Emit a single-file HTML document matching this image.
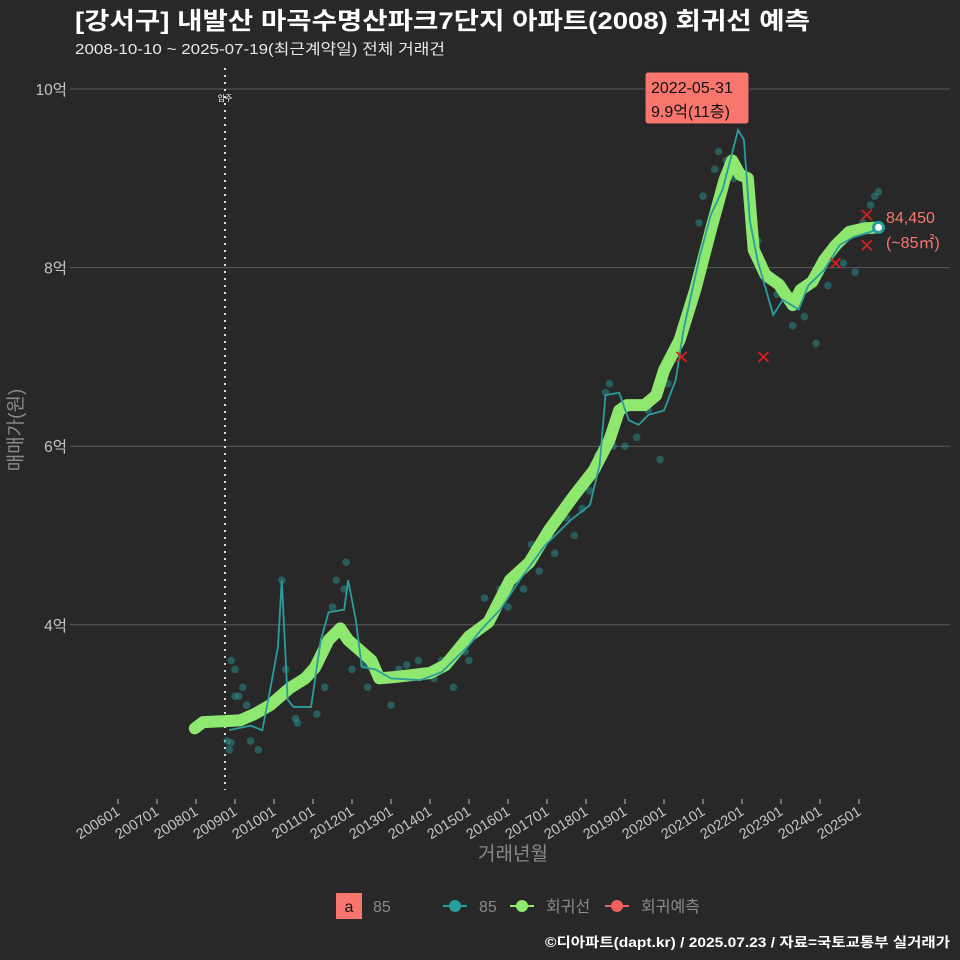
<!DOCTYPE html>
<html><head><meta charset="utf-8">
<style>
body{margin:0;background:#282829;}
svg{display:block;font-family:"Liberation Sans","Noto Sans CJK KR",sans-serif;}
</style></head>
<body>
<svg id="chart" width="960" height="960" viewBox="0 0 960 960">
<rect width="960" height="960" fill="#282829"/>
<text x="75" y="29" font-size="24" font-weight="bold" fill="#fff" textLength="735" lengthAdjust="spacingAndGlyphs">[강서구] 내발산 마곡수명산파크7단지 아파트(2008) 회귀선 예측</text>
<text x="75" y="54" font-size="15" fill="#e8e8e8" textLength="370" lengthAdjust="spacingAndGlyphs">2008-10-10 ~ 2025-07-19(최근계약일) 전체 거래건</text>
<g id="grid"></g>
<g id="yaxis"></g>
<g id="xaxis"></g>
<line x1="225" y1="68" x2="225" y2="790" stroke="#ddd" stroke-width="2" stroke-dasharray="2,5"/>
<text x="225" y="101" font-size="8" fill="#fff" text-anchor="middle">입주</text>
<g id="points"></g>
<g id="lines"></g>
<g id="preds"></g>
<text transform="translate(22,430) rotate(-90)" font-size="19" fill="#8a8a8a" text-anchor="middle">매매가(원)</text>
<text x="513" y="860" font-size="19" fill="#8a8a8a" text-anchor="middle">거래년월</text>
<g>
<rect x="645" y="72" width="104" height="52" rx="3" fill="#f8766d" stroke="#222" stroke-width="1"/>
<text x="651" y="93" font-size="16" fill="#111">2022-05-31</text>
<text x="651" y="117" font-size="16" fill="#111">9.9억(11층)</text>
</g>
<text x="886" y="223" font-size="16" fill="#f8766d">84,450</text>
<text x="886" y="248" font-size="16" fill="#f8766d">(~85㎡)</text>
<g>
<rect x="336" y="893" width="26" height="26" fill="#f8766d"/>
<text x="349" y="912" font-size="16" fill="#111" text-anchor="middle">a</text>
<text x="373" y="912" font-size="16" fill="#8a8a8a">85</text>
<line x1="443" y1="906" x2="467" y2="906" stroke="#2a9d9d" stroke-width="2"/><circle cx="455" cy="906" r="6" fill="#2a9d9d"/>
<text x="479" y="912" font-size="16" fill="#8a8a8a">85</text>
<line x1="510" y1="906" x2="534" y2="906" stroke="#8ee86f" stroke-width="2"/><circle cx="522" cy="906" r="6" fill="#8ee86f"/>
<text x="546" y="912" font-size="16" fill="#8a8a8a">회귀선</text>
<line x1="605" y1="906" x2="629" y2="906" stroke="#f06060" stroke-width="2"/><circle cx="617" cy="906" r="6" fill="#f06060"/>
<text x="641" y="912" font-size="16" fill="#8a8a8a">회귀예측</text>
</g>
<text x="950" y="947" font-size="13.5" font-weight="bold" fill="#fff" text-anchor="end" textLength="405" lengthAdjust="spacingAndGlyphs">©디아파트(dapt.kr) / 2025.07.23 / 자료=국토교통부 실거래가</text>
</svg>
<script>
const yTicks=[4,6,8,10];
const xTickYears=[2006,2007,2008,2009,2010,2011,2012,2013,2014,2015,2016,2017,2018,2019,2020,2021,2022,2023,2024,2025];
const regT=[2007.97,2008.18,2009.13,2009.5,2009.9,2010.4,2010.8,2011.05,2011.4,2011.7,2011.9,2012.5,2012.7,2013.2,2014.0,2014.4,2015.0,2015.5,2016.05,2016.55,2017.05,2017.7,2018.2,2018.6,2018.85,2019.05,2019.5,2019.8,2020.0,2020.4,2020.8,2021.2,2021.55,2021.75,2021.95,2022.15,2022.3,2022.6,2022.95,2023.3,2023.5,2023.8,2024.1,2024.4,2024.75,2025.15,2025.5];
const regV=[2.84,2.91,2.93,3.0,3.1,3.29,3.4,3.52,3.83,3.96,3.83,3.6,3.4,3.42,3.46,3.55,3.87,4.03,4.5,4.7,5.06,5.45,5.73,6.07,6.4,6.46,6.46,6.57,6.85,7.19,7.75,8.42,8.98,9.2,9.04,9.0,8.2,7.92,7.81,7.58,7.75,7.84,8.08,8.25,8.4,8.44,8.45];
const avgT=[2008.85,2009.4,2009.7,2009.9,2010.1,2010.2,2010.35,2010.5,2010.95,2011.2,2011.4,2011.8,2011.9,2012.1,2012.25,2012.6,2013.0,2013.75,2014.3,2014.6,2015.0,2015.3,2015.8,2016.3,2016.95,2017.6,2018.1,2018.35,2018.5,2018.85,2019.1,2019.35,2019.6,2020.0,2020.15,2020.3,2020.5,2020.9,2021.2,2021.5,2021.9,2022.05,2022.2,2022.4,2022.8,2023.05,2023.45,2023.7,2024.1,2024.5,2024.85,2025.3,2025.5];
const avgV=[2.82,2.87,2.82,3.27,3.75,4.5,3.16,3.08,3.08,3.83,4.14,4.17,4.5,4.05,3.53,3.5,3.4,3.38,3.47,3.6,3.77,3.94,4.17,4.5,4.89,5.17,5.34,5.79,6.57,6.6,6.29,6.24,6.35,6.4,6.57,6.74,7.3,8.1,8.59,8.87,9.54,9.43,8.53,8.08,7.47,7.64,7.53,7.8,7.97,8.25,8.34,8.4,8.45];
const ptT=[2008.8,2008.85,2008.9,2009.0,2009.1,2009.2,2009.3,2009.4,2009.6,2008.9,2009.0,2009.1,2010.2,2010.3,2010.55,2010.6,2011.1,2011.3,2011.5,2011.6,2011.8,2011.85,2012.0,2012.3,2012.4,2013.0,2013.2,2013.4,2013.7,2013.9,2014.1,2014.3,2014.6,2014.9,2015.0,2015.2,2015.4,2015.6,2015.8,2016.0,2016.2,2016.4,2016.6,2016.8,2017.0,2017.2,2017.5,2017.7,2017.9,2018.1,2018.3,2018.5,2018.6,2018.7,2019.0,2019.3,2019.6,2019.9,2020.1,2020.3,2020.5,2020.7,2020.9,2021.0,2021.3,2021.4,2021.6,2021.8,2022.0,2022.2,2022.4,2022.9,2023.3,2023.6,2023.9,2024.2,2024.6,2024.9,2025.1,2025.3,2025.4,2025.5];
const ptV=[2.7,2.6,2.68,3.5,3.2,3.3,3.1,2.7,2.6,3.6,3.2,2.95,4.5,3.5,2.95,2.9,3.0,3.3,4.2,4.5,4.4,4.7,3.5,3.55,3.3,3.1,3.5,3.55,3.6,3.45,3.4,3.6,3.3,3.7,3.6,3.9,4.3,4.1,4.4,4.2,4.5,4.4,4.9,4.6,5.0,4.8,5.2,5.0,5.3,5.5,5.9,6.6,6.7,6.0,6.0,6.1,6.4,5.85,6.7,7.1,7.3,7.7,8.5,8.8,9.1,9.3,9.2,9.0,9.85,8.9,8.3,7.7,7.35,7.45,7.15,7.8,8.05,7.95,8.5,8.7,8.8,8.85];
const predT=[2020.45,2022.55,2024.4,2025.2,2025.2];
const predV=[7.0,7.0,8.05,8.59,8.25];
const NS='http://www.w3.org/2000/svg';
const xs=t=>118+(t-2006)*39;
const ys=v=>89+(10-v)*89.3;
function mk(tag,attrs,parent){const e=document.createElementNS(NS,tag);for(const k in attrs)e.setAttribute(k,attrs[k]);parent.appendChild(e);return e;}
const grid=document.getElementById('grid'),yax=document.getElementById('yaxis'),xax=document.getElementById('xaxis');
yTicks.forEach(v=>{
 const l=mk('line',{x1:70,x2:950,y1:ys(v),y2:ys(v),stroke:'#5a5a5a','stroke-width':1},grid);
 
 
 const t=mk('text',{x:67,y:ys(v)+6,'font-size':15.5,fill:'#c4c4c4','text-anchor':'end'},yax);
 t.textContent=v+'억';
 
 
});
xTickYears.forEach(y=>{
 const x=xs(y);
 const l=mk('line',{x1:x,x2:x,y1:799,y2:804,stroke:'#bbb','stroke-width':1},xax);
 
 
 const t=mk('text',{x:x+3,y:814,'font-size':14.5,fill:'#c4c4c4','text-anchor':'end',transform:`rotate(-32 ${x+3} 814)`},xax);
 t.textContent=y+'01';
 
 
});
const pg=document.getElementById('points');
ptT.forEach((t,i)=>{
 const c=mk('circle',{cx:xs(t),cy:ys(ptV[i]),r:3.8,fill:'#2a9d9d','fill-opacity':0.45},pg);
 
 
});
const lg=document.getElementById('lines');
const reg=mk('polyline',{points:regT.map((t,i)=>xs(t)+','+ys(regV[i])).join(' '),fill:'none',stroke:'#8ee86f','stroke-width':12,'stroke-linejoin':'round','stroke-linecap':'round'},lg);


const avg=mk('polyline',{points:avgT.map((t,i)=>xs(t)+','+ys(avgV[i])).join(' '),fill:'none',stroke:'#2a9d9d','stroke-width':1.8},lg);


const pr=document.getElementById('preds');
predT.forEach((t,i)=>{
 const x=xs(t),y=ys(predV[i]);
 const p=mk('path',{d:`M${x-5},${y-5}L${x+5},${y+5}M${x-5},${y+5}L${x+5},${y-5}`,stroke:'#d42020','stroke-width':1.8},pr);
 
 
});
const last=mk('circle',{cx:xs(2025.5),cy:ys(8.45),r:5,fill:'#fff',stroke:'#2a9d9d','stroke-width':3},lg);


</script>
</body></html>
